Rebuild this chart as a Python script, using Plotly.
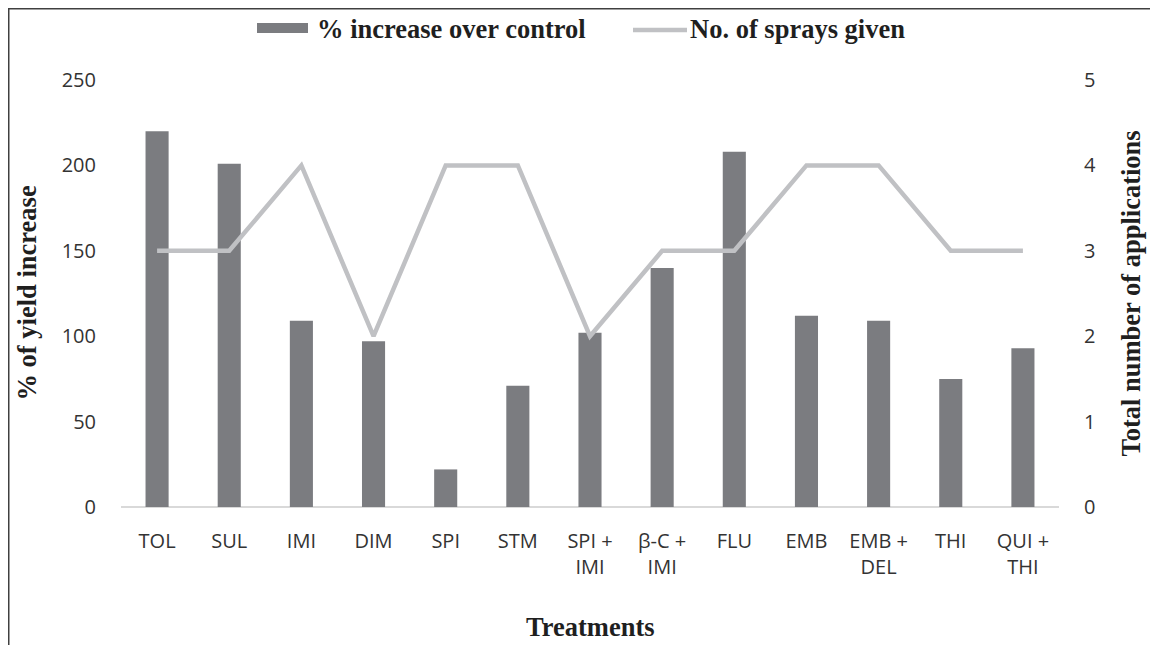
import plotly.graph_objects as go

categories = ["TOL", "SUL", "IMI", "DIM", "SPI", "STM", "SPI +<br>IMI", "β-C +<br>IMI",
              "FLU", "EMB", "EMB +<br>DEL", "THI", "QUI +<br>THI"]
pct_increase = [220, 201, 109, 97, 22, 71, 102, 140, 208, 112, 109, 75, 93]
sprays = [3, 3, 4, 2, 4, 4, 2, 3, 3, 4, 4, 3, 3]

bar_color = "#7b7c80"
line_color = "#c0c1c4"
tick_font = dict(family="Open Sans, Lato, sans-serif", size=20, color="#333333")
title_font = dict(family="Liberation Serif, Times New Roman, serif", size=26.5, color="#1f1f1f")

W, H = 1150, 645
L, R, T, B = 121, 91, 80, 138
pw, ph = W - L - R, H - T - B


def px(x):  # page pixel -> paper x
    return (x - L) / pw


def py(y):  # page pixel -> paper y
    return (H - B - y) / ph


fig = go.Figure()
fig.add_trace(go.Bar(x=categories, y=pct_increase, name="% increase over control",
                     marker=dict(color=bar_color, line=dict(width=0)), width=0.32, yaxis="y",
                     showlegend=False))
fig.add_trace(go.Scatter(x=categories, y=sprays, name="No. of sprays given", mode="lines",
                         line=dict(color=line_color, width=4.5), yaxis="y2", showlegend=False))

border = dict(color="#404040", width=1.5)
fig.update_layout(
    width=W, height=H,
    margin=dict(l=L, r=R, t=T, b=B, autoexpand=False),
    paper_bgcolor="white", plot_bgcolor="white",
    xaxis=dict(tickfont=tick_font, showgrid=False, showline=False, ticks="",
               ticklabelstandoff=20, tickangle=0),
    yaxis=dict(range=[0, 250], dtick=50, tickfont=tick_font, showgrid=False, zeroline=True,
               zerolinecolor="#d9d9d9", zerolinewidth=2, showline=False, ticks="",
               ticklabelstandoff=24),
    yaxis2=dict(range=[0, 5], dtick=1, tickfont=tick_font, overlaying="y", side="right",
                showgrid=False, zeroline=False, showline=False, ticks="", ticklabelstandoff=24),
    annotations=[
        dict(text="<b>% of yield increase</b>", xref="paper", yref="paper", x=px(26), y=0.5,
             textangle=-90, showarrow=False, font=title_font, xanchor="center", yanchor="middle"),
        dict(text="<b>Total number of applications</b>", xref="paper", yref="paper", x=px(1130), y=0.5,
             textangle=-90, showarrow=False, font=title_font, xanchor="center", yanchor="middle"),
        dict(text="<b>Treatments</b>", xref="paper", yref="paper", x=0.5, y=py(627),
             showarrow=False, font=title_font, xanchor="center", yanchor="middle"),
        dict(text="<b>% increase over control</b>", xref="paper", yref="paper", x=px(315), y=py(29),
             showarrow=False, font=title_font, xanchor="left", yanchor="middle"),
        dict(text="<b>No. of sprays given</b>", xref="paper", yref="paper", x=px(688), y=py(29),
             showarrow=False, font=title_font, xanchor="left", yanchor="middle"),
    ],
    shapes=[
        dict(type="line", xref="paper", yref="paper", x0=px(8.75), x1=px(8.75), y0=py(660), y1=py(8),
             line=border, layer="below"),
        dict(type="line", xref="paper", yref="paper", x0=px(8), x1=px(1160), y0=py(8.75), y1=py(8.75),
             line=border, layer="below"),
        dict(type="rect", xref="paper", yref="paper", x0=px(257), x1=px(308), y0=py(33), y1=py(23),
             fillcolor=bar_color, line=dict(width=0)),
        dict(type="line", xref="paper", yref="paper", x0=px(633), x1=px(687), y0=py(30), y1=py(30),
             line=dict(color=line_color, width=4.5)),
    ],
)

fig.write_html("out.html", config={"displayModeBar": False},
               post_script="document.body.style.margin='0';document.body.style.overflow='hidden';"
                           "document.documentElement.style.overflow='hidden';")
